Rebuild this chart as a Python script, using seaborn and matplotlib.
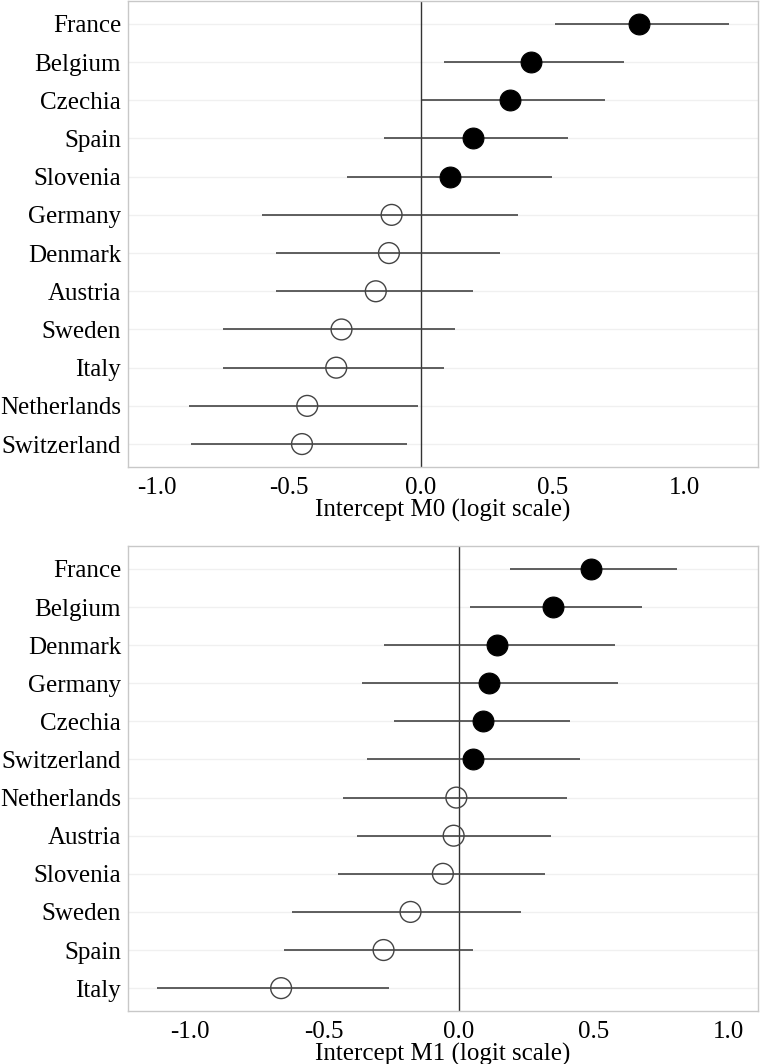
import numpy as np
import pandas as pd
import matplotlib
matplotlib.use("Agg")
import matplotlib.pyplot as plt
import seaborn as sns

# Panel 1: intercept M0
m0_country = ["France", "Belgium", "Czechia", "Spain", "Slovenia", "Germany",
              "Denmark", "Austria", "Sweden", "Italy", "Netherlands", "Switzerland"]
m0_est = [0.83, 0.42, 0.34, 0.20, 0.11, -0.11, -0.12, -0.17, -0.30, -0.32, -0.43, -0.45]
m0_lo = [0.51, 0.09, 0.005, -0.14, -0.28, -0.60, -0.55, -0.55, -0.75, -0.75, -0.88, -0.87]
m0_hi = [1.17, 0.77, 0.70, 0.56, 0.50, 0.37, 0.30, 0.20, 0.13, 0.09, -0.01, -0.05]

# Panel 2: intercept M1
m1_country = ["France", "Belgium", "Denmark", "Germany", "Czechia", "Switzerland",
              "Netherlands", "Austria", "Slovenia", "Sweden", "Spain", "Italy"]
m1_est = [0.49, 0.35, 0.14, 0.11, 0.09, 0.05, -0.01, -0.02, -0.06, -0.18, -0.28, -0.66]
m1_lo = [0.19, 0.04, -0.28, -0.36, -0.24, -0.34, -0.43, -0.38, -0.45, -0.62, -0.65, -1.12]
m1_hi = [0.81, 0.68, 0.58, 0.59, 0.41, 0.45, 0.40, 0.34, 0.32, 0.23, 0.05, -0.26]

sns.set_style("white")
plt.rcParams['font.family'] = ['Liberation Serif', 'DejaVu Serif']

fig = plt.figure(figsize=(7.6, 10.64), dpi=100)
ax1 = fig.add_axes([0.1684, 0.5611, 0.829, 0.438])
ax2 = fig.add_axes([0.1684, 0.0498, 0.829, 0.437])


def forest(ax, country, est, lo, hi, label, xlim):
    df = pd.DataFrame({"country": country, "est": est, "lo": lo, "hi": hi})
    df["pos"] = np.arange(len(df))
    df["sig"] = df["est"] > 0
    for p in df["pos"]:
        ax.axhline(p, color="#f0f0f0", lw=1.0, zorder=0)
    ax.axvline(0, color="#333333", lw=1.0, zorder=1)
    ax.hlines(df["pos"], df["lo"], df["hi"], color="#444444", lw=1.2, zorder=2)
    sns.scatterplot(data=df[df["sig"]], x="est", y="pos", ax=ax, s=225,
                    color="black", edgecolor="black", linewidth=0.8, zorder=3,
                    legend=False)
    sns.scatterplot(data=df[~df["sig"]], x="est", y="pos", ax=ax, s=225,
                    facecolors="none", edgecolor="#444444", linewidth=1.0,
                    zorder=3, legend=False)
    ax.set_yticks(df["pos"])
    ax.set_yticklabels(df["country"])
    ax.set_ylim(len(df) - 0.4, -0.6)
    ax.set_xlim(*xlim)
    ax.set_xticks([-1.0, -0.5, 0.0, 0.5, 1.0])
    ax.set_xticklabels(["-1.0", "-0.5", "0.0", "0.5", "1.0"])
    ax.set_xlabel(label, fontsize=18, color="black", labelpad=0)
    ax.set_ylabel("")
    ax.tick_params(axis="both", labelsize=18, colors="#555555", length=4,
                   width=0.8, labelcolor="black", pad=1)
    ax.tick_params(axis="x", pad=3)
    for sp in ax.spines.values():
        sp.set_color("#c8c8c8")
        sp.set_linewidth(1.0)
    ax.grid(False)


forest(ax1, m0_country, m0_est, m0_lo, m0_hi, "Intercept M0 (logit scale)", (-1.11, 1.28))
forest(ax2, m1_country, m1_est, m1_lo, m1_hi, "Intercept M1 (logit scale)", (-1.228, 1.109))

fig.savefig("out.png", dpi=100)
